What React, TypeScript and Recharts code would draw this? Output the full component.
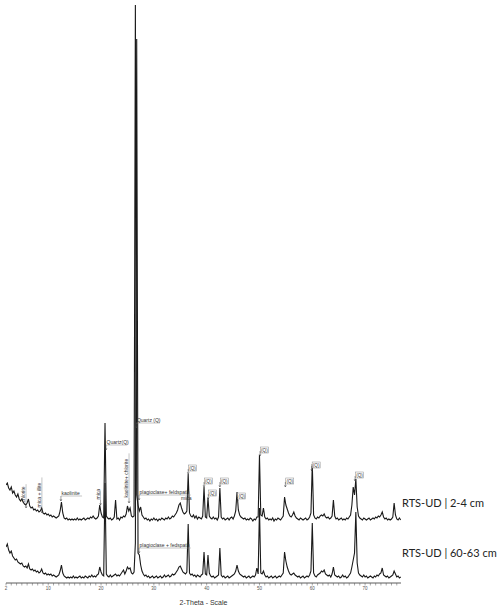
import React from 'react';
import { ComposedChart, Line, XAxis, YAxis, ReferenceDot } from 'recharts';

// Scan: 2-Theta from 2.00 deg in 0.25 deg steps (300 steps)
const START_ANGLE = 2;
const STEP = 0.25;

// RTS-UD | 2-4 cm (raw counts, plotted with a vertical offset)
const upperCounts = [
  40, 42, 37, 35, 38, 32, 34, 30, 28, 31, 26, 24, 26, 23, 21, 20, 22, 26, 19, 17,
  18, 15, 16, 14, 15, 13, 14, 17, 12, 11, 12, 10, 11, 9, 10, 8, 9, 8, 7, 8,
  9, 14, 23, 12, 7, 6, 7, 5, 6, 5, 6, 5, 6, 5, 7, 5, 6, 5, 6, 7,
  5, 6, 7, 6, 8, 7, 9, 7, 6, 7, 9, 20, 12, 8, 7, 102, 9, 7, 6, 7,
  5, 6, 8, 25, 6, 7, 5, 8, 7, 9, 8, 11, 19, 14, 17, 9, 8, 9, 520, 30,
  20, 14, 18, 10, 8, 6, 7, 5, 6, 4, 6, 5, 7, 5, 6, 4, 6, 5, 7, 6,
  5, 7, 6, 8, 6, 7, 9, 8, 10, 12, 15, 20, 22, 17, 13, 11, 12, 14, 51, 12,
  9, 8, 10, 7, 9, 6, 8, 7, 6, 9, 38, 8, 7, 27, 9, 7, 6, 8, 6, 7,
  5, 8, 37, 8, 6, 7, 5, 6, 7, 5, 7, 8, 6, 9, 14, 33, 15, 10, 8, 7,
  6, 7, 5, 6, 5, 7, 6, 4, 6, 5, 8, 8, 70, 10, 9, 17, 8, 6, 7, 5,
  6, 5, 7, 4, 6, 5, 7, 6, 5, 7, 9, 28, 20, 16, 12, 9, 8, 10, 13, 9,
  7, 6, 5, 7, 6, 5, 6, 7, 5, 6, 8, 12, 61, 10, 7, 6, 8, 7, 9, 10,
  9, 11, 8, 7, 8, 6, 7, 9, 25, 9, 6, 7, 5, 6, 7, 5, 6, 5, 7, 6,
  8, 10, 20, 38, 30, 46, 18, 9, 7, 6, 5, 7, 6, 5, 6, 7, 5, 6, 7, 6,
  8, 7, 9, 8, 10, 13, 8, 6, 7, 5, 6, 5, 6, 8, 22, 10, 6, 5, 7, 5,
];

// RTS-UD | 60-63 cm
const lowerCounts = [
  36, 39, 33, 30, 32, 27, 25, 23, 24, 21, 20, 19, 20, 17, 16, 17, 15, 19, 14, 13,
  14, 12, 13, 11, 12, 10, 11, 14, 10, 9, 10, 8, 9, 8, 9, 7, 8, 7, 6, 7,
  8, 12, 18, 10, 7, 6, 5, 6, 5, 6, 5, 7, 5, 6, 5, 6, 7, 5, 6, 5,
  7, 6, 5, 7, 6, 8, 6, 7, 6, 8, 9, 16, 11, 8, 7, 100, 9, 7, 6, 8,
  6, 7, 8, 9, 7, 8, 7, 9, 11, 13, 9, 12, 16, 14, 15, 10, 9, 11, 40, 544,
  30, 28, 18, 12, 9, 7, 8, 6, 7, 5, 6, 7, 5, 6, 7, 5, 6, 7, 5, 6,
  8, 6, 7, 8, 6, 7, 9, 8, 9, 11, 13, 16, 17, 14, 11, 10, 9, 11, 59, 10,
  8, 9, 7, 8, 6, 8, 7, 6, 8, 9, 31, 9, 8, 28, 10, 7, 6, 7, 5, 6,
  7, 8, 35, 8, 6, 7, 5, 6, 7, 5, 6, 7, 8, 9, 12, 18, 12, 9, 8, 7,
  6, 7, 5, 6, 7, 5, 6, 7, 6, 8, 15, 9, 75, 10, 9, 12, 8, 6, 7, 5,
  6, 7, 5, 6, 7, 5, 6, 7, 6, 8, 10, 31, 22, 16, 12, 9, 8, 9, 10, 8,
  7, 6, 7, 5, 6, 7, 5, 6, 7, 6, 8, 12, 60, 10, 7, 6, 8, 9, 10, 12,
  11, 13, 9, 8, 7, 8, 6, 9, 16, 8, 7, 6, 7, 5, 6, 8, 6, 7, 5, 6,
  8, 10, 16, 23, 30, 71, 20, 10, 8, 7, 6, 8, 6, 7, 5, 6, 7, 6, 5, 7,
  6, 8, 7, 9, 10, 15, 8, 7, 6, 7, 5, 6, 7, 8, 12, 9, 6, 7, 5, 6,
];

const UPPER_OFFSET = 58;
const sampleNames = ['RTS-UD | 2-4 cm', 'RTS-UD | 60-63 cm'];

const labelledTicks = [2, 10, 20, 30, 40, 50, 60, 70];
const tickValues = Array.from({ length: 75 }, (_, i) => 2 + i);

// Quartz (Q) markers
const qAngles = [36.5, 39.5, 40.3, 42.5, 45.8, 50.1, 54.9, 59.9, 68.1];
const qLevels = [115, 102, 90, 102, 87, 133, 102, 118, 108];

// Mineral annotations
const mineralNames = [
  'chlorite', 'mica + illite', 'kaolinite', 'mica', 'Quartz(Q)',
  'kaolinite+ chlorite', 'Quartz (Q)', 'plagioclase+ feldspath', 'mica', 'plagioclase + fedspath',
];
const mineralAngles = [5.8, 8.8, 12.4, 19.9, 20.94, 25.3, 26.7, 27.2, 35.15, 27.2];
const mineralLevels = [75, 70, 82, 78, 133, 80, 155, 83, 83, 30];
const mineralKinds = ['v', 'v', 'h', 'v', 'h', 'v', 'h', 'h', 't', 'h'];

const rows = upperCounts.map((u, i) => ({
  angle: START_ANGLE + i * STEP,
  upper: u + UPPER_OFFSET,
  lower: lowerCounts[i],
}));

const FONT = '"Liberation Sans", Arial, sans-serif';
const TXT = '#333';
const LINE = '#8a8a8a';

const arrow = (x: number, y: number) => (
  <g>
    <line x1={x} y1={y - 5} x2={x} y2={y} stroke="#444" strokeWidth={0.5} />
    <path d={`M${x - 0.9},${y - 1.8} L${x},${y} L${x + 0.9},${y - 1.8}`} fill="none" stroke="#444" strokeWidth={0.5} />
  </g>
);

const makeMineralShape = (text: string, kind: string) => (props: any) => {
  const { cx, cy } = props;
  const w = text.length * 2.35;
  if (kind === 'h') {
    return (
      <g>
        {arrow(cx, cy)}
        <line x1={cx} y1={cy - 5} x2={cx + w} y2={cy - 5} stroke={LINE} strokeWidth={0.5} />
        <text x={cx + 0.5} y={cy - 6.2} fontSize={5} fontFamily={FONT} fill={TXT}>{text}</text>
      </g>
    );
  }
  if (kind === 'v') {
    return (
      <g>
        {arrow(cx, cy)}
        <line x1={cx} y1={cy - 5} x2={cx} y2={cy - 5 - w} stroke={LINE} strokeWidth={0.5} />
        <text transform={`translate(${cx - 0.8},${cy - 5.5}) rotate(-90)`} fontSize={5} fontFamily={FONT} fill={TXT}>{text}</text>
      </g>
    );
  }
  return (
    <text x={cx} y={cy} fontSize={5} fontFamily={FONT} fill={TXT}>{text}</text>
  );
};

const qShape = (props: any) => {
  const { cx, cy } = props;
  return (
    <g>
      <rect x={cx + 0.4} y={cy - 3} width={8} height={6} fill="#fff" stroke={LINE} strokeWidth={0.5} />
      <text x={cx + 4.4} y={cy + 1.7} fontSize={4.6} textAnchor="middle" fontFamily={FONT} fill={TXT}>(Q)</text>
      <line x1={cx} y1={cy + 1} x2={cx} y2={cy + 6} stroke="#444" strokeWidth={0.5} />
      <path d={`M${cx - 0.9},${cy + 4.2} L${cx},${cy + 6} L${cx + 0.9},${cy + 4.2}`} fill="none" stroke="#444" strokeWidth={0.5} />
    </g>
  );
};

export default function App() {
  return (
    <div style={{ position: 'absolute', left: 0, top: 0, width: 500, height: 608, background: '#fff' }}>
      <ComposedChart width={500} height={608} data={rows} margin={{ top: 5, right: 99, bottom: 0, left: 6 }}>
        <XAxis
          dataKey="angle"
          type="number"
          domain={[2, 76.8]}
          ticks={tickValues}
          interval={0}
          tickFormatter={(v: number) => (labelledTicks.includes(v) ? String(v) : '')}
          tick={{ fontSize: 4.5, fill: '#555', fontFamily: FONT }}
          tickSize={2.5}
          tickMargin={1.5}
          axisLine={{ stroke: '#333', strokeWidth: 0.8 }}
          tickLine={{ stroke: '#555', strokeWidth: 0.5 }}
          height={25}
          allowDataOverflow
          label={{ value: '2-Theta - Scale', position: 'insideBottom', offset: 3, fontSize: 7, fill: TXT, fontFamily: FONT }}
        />
        <YAxis hide type="number" domain={[0, 578]} allowDataOverflow />
        <Line type="linear" dataKey="lower" stroke="#1a1a1a" strokeWidth={1.1} dot={false} isAnimationActive={false} />
        <Line type="linear" dataKey="upper" stroke="#1a1a1a" strokeWidth={1.1} dot={false} isAnimationActive={false} />
        {qAngles.map((a, i) => (
          <ReferenceDot key={'q' + i} x={a} y={qLevels[i]} r={0} ifOverflow="visible" shape={qShape} />
        ))}
        {mineralNames.map((n, i) => (
          <ReferenceDot
            key={'m' + i}
            x={mineralAngles[i]}
            y={mineralLevels[i]}
            r={0}
            ifOverflow="visible"
            shape={makeMineralShape(n, mineralKinds[i])}
          />
        ))}
      </ComposedChart>
      <div style={{ position: 'absolute', left: 402, top: 497, fontFamily: 'Lato, sans-serif', fontSize: 11, lineHeight: 1, color: '#222', whiteSpace: 'nowrap' }}>
        {sampleNames[0]}
      </div>
      <div style={{ position: 'absolute', left: 402, top: 547, fontFamily: 'Lato, sans-serif', fontSize: 11, lineHeight: 1, color: '#222', whiteSpace: 'nowrap' }}>
        {sampleNames[1]}
      </div>
    </div>
  );
}
